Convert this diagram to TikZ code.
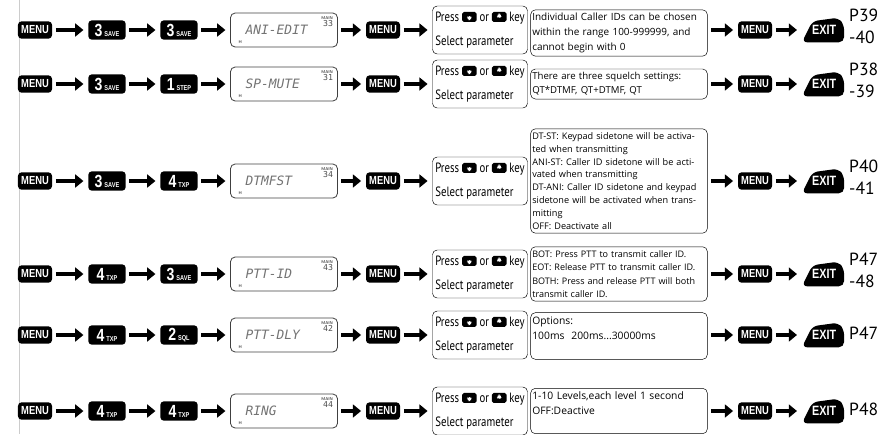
\documentclass[tikz,border=0pt]{standalone}
\usepackage{fontspec}
\setmainfont{Open Sans}
\newfontfamily\keyfont[FakeStretch=0.8]{Liberation Sans}
\newfontfamily\pressfont[FakeStretch=0.8]{PT Sans}
\newfontfamily\pagefont{PT Sans}
\newfontfamily\lcdfont{DejaVu Sans Mono}
\usepackage{tikz}
\usetikzlibrary{shapes.geometric, arrows.meta, positioning}

% small arrow key icons for the press boxes
\newcommand{\upkey}{\tikz[baseline=-1pt]{\fill [black, rounded corners=1.5pt] (0pt,-1pt) rectangle (12.5pt,7.5pt);
    \fill [white] (3pt,0.5pt) -- (9.5pt,0.5pt) -- (6.25pt,6pt) -- cycle;}}
\newcommand{\downkey}{\tikz[baseline=-1pt]{\fill [black, rounded corners=1.5pt] (0pt,-1pt) rectangle (12.5pt,7.5pt);
    \fill [white] (3pt,6pt) -- (9.5pt,6pt) -- (6.25pt,0.5pt) -- cycle;}}
\newcommand{\numlabel}[2]{{\fontsize{15}{15}\selectfont #1}\,{\fontsize{6}{6}\selectfont #2}}

\begin{document}
\begin{tikzpicture}[x=0.03cm, y=-0.03cm,
    key/.style={fill=black, rounded corners=3pt, text=white, font=\keyfont\bfseries\fontsize{10}{10}\selectfont, minimum height=0.52cm, inner sep=1pt},
    menukey/.style={key, minimum width=1.02cm},
    numkey/.style={key, minimum width=1.12cm, minimum height=0.58cm},
    exitkey/.style={text=white, font=\keyfont\bfseries\fontsize{11.5}{11.5}\selectfont, inner sep=0pt, minimum width=36pt, minimum height=21pt,
        path picture={\fill [black, rounded corners=4.5pt] (path picture bounding box.south west) -- ++(36pt,0pt) -- ++(0pt,15pt)
            -- ++(-5pt,6pt) -- ++(-22pt,-3pt) -- cycle;}},
    lcd/.style={draw=black!75, line width=0.7pt, rounded corners=4pt, minimum height=1.02cm, text width=2.31cm, inner xsep=0.45cm, align=left, font=\lcdfont\itshape\fontsize{11}{11}\selectfont, text=black!55},
    lcdtag/.style={inner sep=0pt, font=\sffamily\bfseries\fontsize{3.5}{4}\selectfont, text=black!70},
    lcdnum/.style={inner sep=0pt, font=\lcdfont\fontsize{7}{7}\selectfont, text=black!70},
    pressbox/.style={draw, rounded corners=4pt, minimum width=2.85cm, minimum height=1.44cm, align=left, inner sep=1pt, font=\pressfont\fontsize{11.5}{20}\selectfont},
    descbox/.style={draw, rounded corners=4pt, text width=5.2cm, inner xsep=0.05cm, inner ysep=3pt, align=left},
    page/.style={anchor=west, align=left, inner sep=0pt, font=\pagefont\fontsize{15}{19}\selectfont},
    go/.style={-{Triangle[length=7pt,width=11pt]}, line width=3pt, shorten <=3pt, shorten >=4pt}
]
    \useasboundingbox (0,0) rectangle (887,434);
    \draw [black!20, line width=0.8pt] (19,0) -- (19,434);

    % one row per menu item
    \foreach \r/\y/\da/\la/\db/\lb/\txt/\ch in {1/30/3/SAVE/3/SAVE/ANI-EDIT/33, 2/84/3/SAVE/1/STEP/SP-MUTE/31,
        3/181/3/SAVE/4/TXP/DTMFST/34, 4/274/4/TXP/3/SAVE/PTT-ID/43, 5/335/4/TXP/2/SQL/PTT-DLY/42, 6/411/4/TXP/4/TXP/RING/44} {
        \node (menuA\r) [menukey] at (35,\y) {MENU};
        \node (keyA\r) [numkey] at (107,\y) {\numlabel{\da}{\la}};
        \node (keyB\r) [numkey] at (179,\y) {\numlabel{\db}{\lb}};
        \node (lcd\r) [lcd] at (284,\y) {\txt};
        \node (main\r) [lcdtag, anchor=north east] at ([shift={(-4pt,-3pt)}]lcd\r.north east) {MAIN};
        \node (chan\r) [lcdnum, anchor=north east] at ([yshift=-1pt]main\r.south east) {\ch};
        \node (band\r) [lcdtag, anchor=south west] at ([shift={(7pt,3pt)}]lcd\r.south west) {H};
        \node (menuB\r) [menukey] at (383,\y) {MENU};
        \node (press\r) [pressbox] at (480,\y) {Press \upkey{} or \downkey{} key\\Select parameter};
        \node (menuC\r) [menukey] at (755,\y) {MENU};
        \node (exit\r) [exitkey] at (823,\y) {\,EXIT};
    }

    \node (desc1) [descbox, font=\fontsize{8.5}{12.5}\selectfont] at (619,33) {Individual Caller IDs can be chosen\\within the range 100-999999, and\\cannot begin with 0};
    \node (desc2) [descbox, font=\fontsize{8.2}{12}\selectfont] at (619,84) {There are three squelch settings:\\QT*DTMF, QT+DTMF, QT};
    \node (desc3) [descbox, font=\fontsize{7.8}{11}\selectfont] at (619,181) {DT-ST: Keypad sidetone will be activa-\\ted when transmitting\\ANI-ST: Caller ID sidetone will be acti-\\vated when transmitting\\DT-ANI: Caller ID sidetone and keypad\\sidetone will be activated when trans-\\mitting\\OFF: Deactivate all};
    \node (desc4) [descbox, font=\fontsize{7.7}{11.5}\selectfont] at (619,274) {BOT: Press PTT to transmit caller ID.\\EOT: Release PTT to transmit caller ID.\\BOTH: Press and release PTT will both\\transmit caller ID.};
    \node (desc5) [descbox, font=\fontsize{8.8}{13}\selectfont, minimum height=1.4cm] at (619,336) {Options:\\100ms~~200ms...30000ms\\~};
    \node (desc6) [descbox, font=\fontsize{8.8}{13}\selectfont, minimum height=1.35cm] at (619,411) {1-10 Levels,each level 1 second\\OFF:Deactive\\~};

    \node (page1) [page] at (849,26) {P39\\-40};
    \node (page2) [page] at (849,80) {P38\\-39};
    \node (page3) [page] at (849,177) {P40\\-41};
    \node (page4) [page] at (849,270) {P47\\-48};
    \node (page5) [page] at (849,333) {P47};
    \node (page6) [page] at (849,409) {P48};

    \foreach \r in {1,...,6} {
        \draw [go] (menuA\r) -- (keyA\r);
        \draw [go] (keyA\r) -- (keyB\r);
        \draw [go] (keyB\r) -- (lcd\r);
        \draw [go] (lcd\r) -- (menuB\r);
        \draw [go] (menuB\r) -- (press\r);
        \draw [go] (desc\r.east |- menuC\r) -- (menuC\r);
        \draw [go] (menuC\r) -- (exit\r);
    }
\end{tikzpicture}
\end{document}
